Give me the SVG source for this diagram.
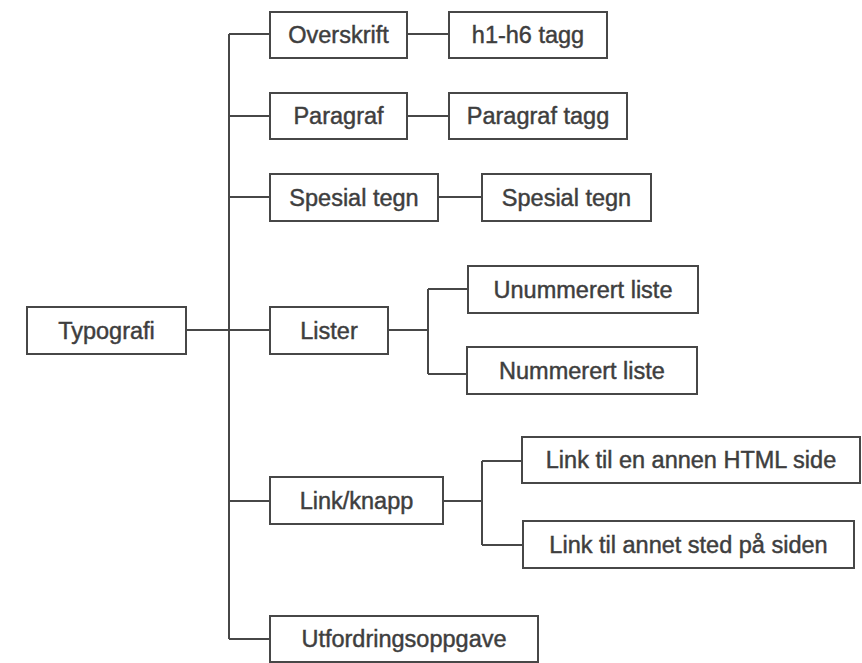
<svg xmlns="http://www.w3.org/2000/svg" width="862" height="663" viewBox="0 0 862 663">
<style>
.box{fill:#fff;stroke:#474747;stroke-width:2}
.lbl{font-family:"Liberation Sans",Arial,sans-serif;font-size:23.5px;fill:#3e3e3e;stroke:#3e3e3e;stroke-width:0.45;text-anchor:middle}
.con{fill:none;stroke:#474747;stroke-width:2}
</style>
<rect width="862" height="663" fill="#fff"/>
<g id="connectors" class="con">
<path d="M229 34V639"/>
<path d="M229 34H270M229 116H270M229 197H270M186 330H270M229 501H270M229 639H270"/>
<path d="M407 34H449M407 116H449M438 197H482"/>
<path d="M388 330H428M428 289V374M428 289H468M428 374H467"/>
<path d="M443 501H482M482 461V545M482 461H522M482 545H523"/>
</g>
<g id="typografi"><rect class="box" x="27" y="307" width="159" height="47"/><text class="lbl" x="106.5" y="339">Typografi</text></g>
<g id="overskrift"><rect class="box" x="270" y="12" width="137" height="46"/><text class="lbl" x="338.5" y="43">Overskrift</text></g>
<g id="h1h6"><rect class="box" x="449" y="12" width="158" height="46"/><text class="lbl" x="528" y="43">h1-h6 tagg</text></g>
<g id="paragraf"><rect class="box" x="270" y="93" width="137" height="46"/><text class="lbl" x="338.5" y="124">Paragraf</text></g>
<g id="paragraftagg"><rect class="box" x="449" y="93" width="178" height="46"/><text class="lbl" x="538" y="124">Paragraf tagg</text></g>
<g id="spesial"><rect class="box" x="270" y="174" width="168" height="47"/><text class="lbl" x="354" y="205.5">Spesial tegn</text></g>
<g id="spesial2"><rect class="box" x="482" y="174" width="169" height="47"/><text class="lbl" x="566.5" y="205.5">Spesial tegn</text></g>
<g id="lister"><rect class="box" x="270" y="307" width="118" height="47"/><text class="lbl" x="329" y="339">Lister</text></g>
<g id="unummerert"><rect class="box" x="468" y="266" width="230" height="47"/><text class="lbl" x="583" y="298">Unummerert liste</text></g>
<g id="nummerert"><rect class="box" x="467" y="347" width="230" height="47"/><text class="lbl" x="582" y="379">Nummerert liste</text></g>
<g id="linkknapp"><rect class="box" x="270" y="477" width="173" height="47"/><text class="lbl" x="356.5" y="509">Link/knapp</text></g>
<g id="linkhtml"><rect class="box" x="522" y="437" width="338" height="46"/><text class="lbl" x="691" y="468">Link til en annen HTML side</text></g>
<g id="linksted"><rect class="box" x="523" y="521" width="331" height="47"/><text class="lbl" x="688.5" y="553">Link til annet sted på siden</text></g>
<g id="utfordring"><rect class="box" x="270" y="616" width="268" height="46"/><text class="lbl" x="404" y="647">Utfordringsoppgave</text></g>
</svg>
